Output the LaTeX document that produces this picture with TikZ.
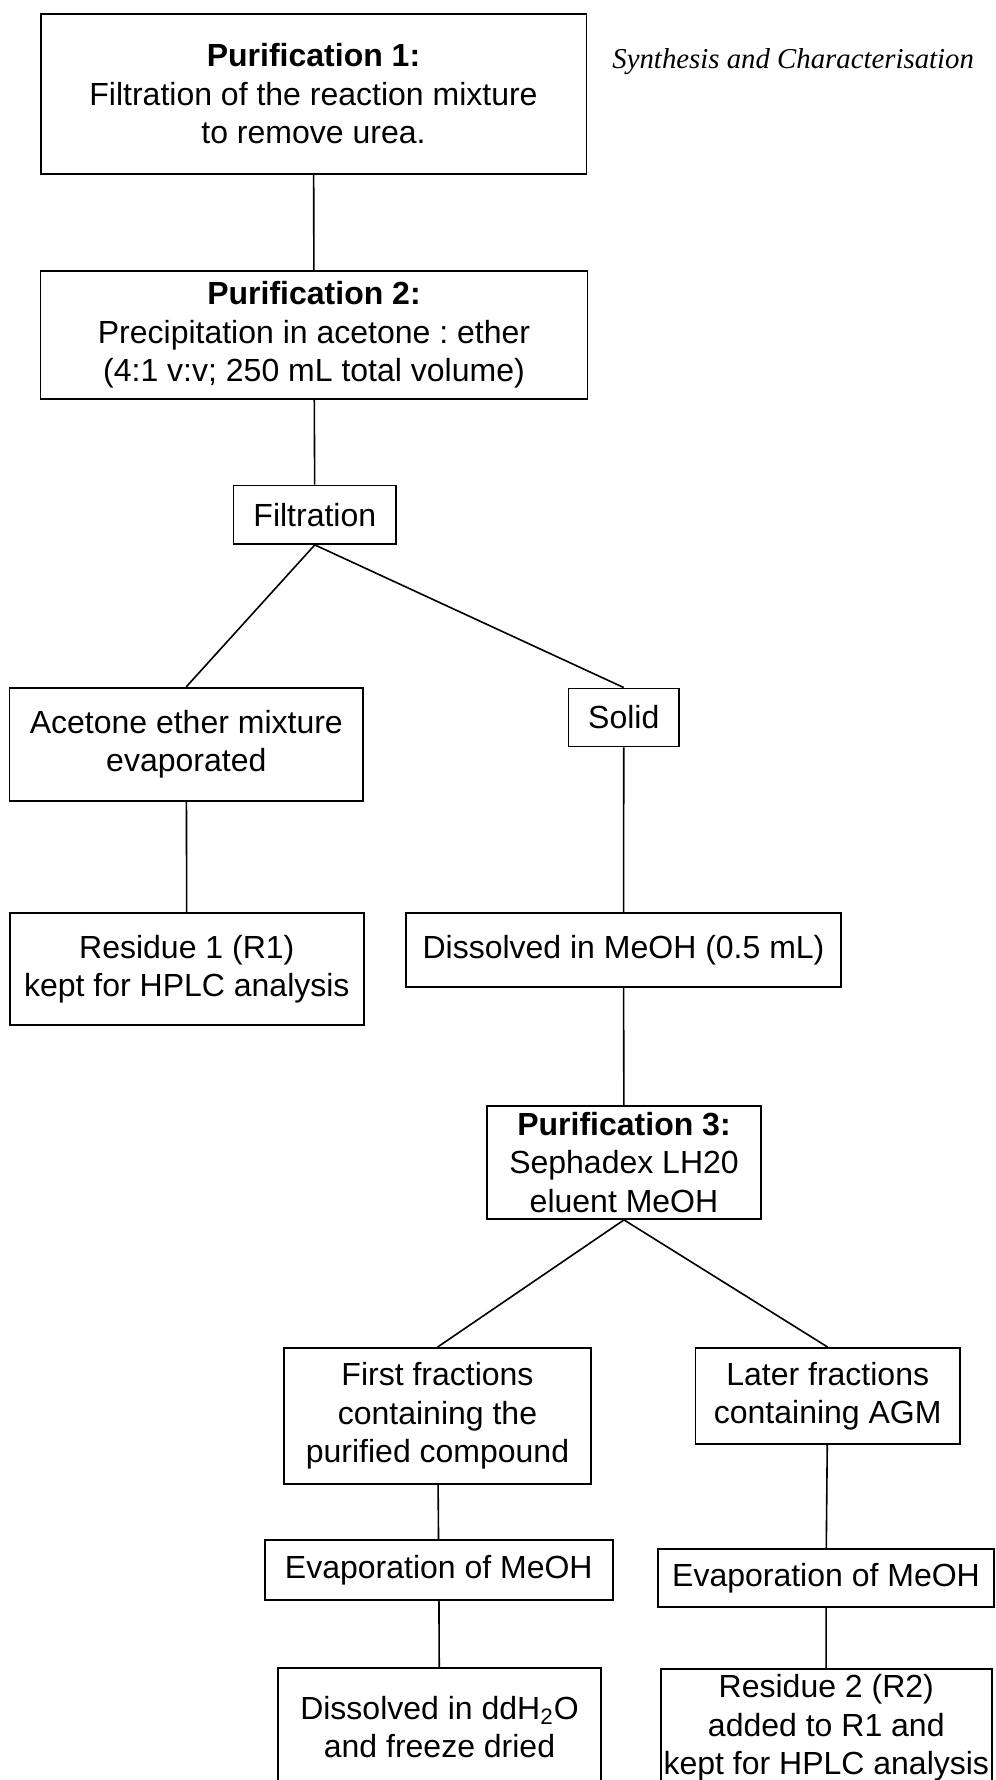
\documentclass[tikz,border=0pt]{standalone}
\usepackage{fontspec}
\setmainfont{Liberation Sans}
\newfontfamily\headfont{Liberation Serif}
\usepackage{tikz}
\usetikzlibrary{positioning}
\frenchspacing

\begin{document}
\begin{tikzpicture}[x=0.5pt, y=-0.5pt,
    box/.style={draw, line width=0.9pt, inner sep=0pt, align=center,
        font=\fontsize{16}{19.25}\selectfont},
    link/.style={line width=0.8pt}]
    % Khung trang và vùng cắt
    \useasboundingbox (0,0) rectangle (995,1780);
    \clip (0,0) rectangle (995,1780);

    % Tiêu đề chương ở góc phải
    \node[anchor=base west, inner sep=0pt, font=\headfont\itshape\fontsize{14.4}{16}\selectfont]
        (tieude) at (612,69) {Synthesis and Characterisation};

    % Các bước tinh chế chính
    \node[box, minimum width=272.9pt, minimum height=80pt] (pur1) at (313.5,94)
        {\textbf{Purification 1:}\\ Filtration of the reaction mixture\\ to remove urea.};
    \node[box, minimum width=273.5pt, minimum height=64pt] (pur2) at (314,335)
        {\textbf{Purification 2:}\\ Precipitation in acetone : ether\\ (4:1 v:v; 250 mL total volume)};
    \node[box, minimum width=81.3pt, minimum height=29.2pt] (loc) at (314.8,514.8) {Filtration};

    % Nhánh trái: dịch lọc
    \node[box, minimum width=176.8pt, minimum height=56.7pt] (dichloc) at (186.3,744.4)
        {Acetone ether mixture\\ evaporated};
    \node[box, minimum width=176.8pt, minimum height=56pt] (cantr1) at (186.8,969)
        {Residue 1 (R1)\\ kept for HPLC analysis};

    % Nhánh phải: chất rắn
    \node[box, minimum width=55.3pt, minimum height=29pt] (chatran) at (623.8,717.5) {Solid};
    \node[box, minimum width=217.5pt, minimum height=37pt] (hoatan) at (623.5,950)
        {Dissolved in MeOH (0.5 mL)};
    \node[box, minimum width=137pt, minimum height=56.5pt] (pur3) at (624,1162.5)
        {\textbf{Purification 3:}\\ Sephadex LH20\\ eluent MeOH};

    % Các phân đoạn sau cột
    \node[box, minimum width=153.5pt, minimum height=67.8pt] (pdau) at (437.5,1415.8)
        {First fractions\\ containing the\\ purified compound};
    \node[box, minimum width=132.3pt, minimum height=48pt] (psau) at (827.7,1396)
        {Later fractions\\ containing AGM};
    \node[box, minimum width=174.2pt, minimum height=30pt] (bayhoi1) at (438.8,1570)
        {Evaporation of MeOH};
    \node[box, minimum width=168pt, minimum height=29pt] (bayhoi2) at (826,1578)
        {Evaporation of MeOH};
    \node[box, minimum width=161.5pt, minimum height=59pt] (dongkho) at (439.5,1727)
        {Dissolved in ddH\textsubscript{2}O\\ and freeze dried};
    \node[box, minimum width=165.5pt, minimum height=59pt] (cantr2) at (826.3,1728)
        {Residue 2 (R2)\\ added to R1 and\\ kept for HPLC analysis};

    % Đường nối
    \draw[link] (pur1) -- (pur2);
    \draw[link] (pur2) -- (loc);
    \draw[link] (loc.south) -- (dichloc.north);
    \draw[link] (loc.south) -- (chatran.north);
    \draw[link] (dichloc) -- (cantr1);
    \draw[link] (chatran) -- (hoatan);
    \draw[link] (hoatan) -- (pur3);
    \draw[link] (pur3.south) -- (pdau.north);
    \draw[link] (pur3.south) -- (psau.north);
    \draw[link] (pdau) -- (bayhoi1);
    \draw[link] (bayhoi1) -- (dongkho);
    \draw[link] (psau) -- (bayhoi2);
    \draw[link] (bayhoi2) -- (cantr2);
\end{tikzpicture}
\end{document}
